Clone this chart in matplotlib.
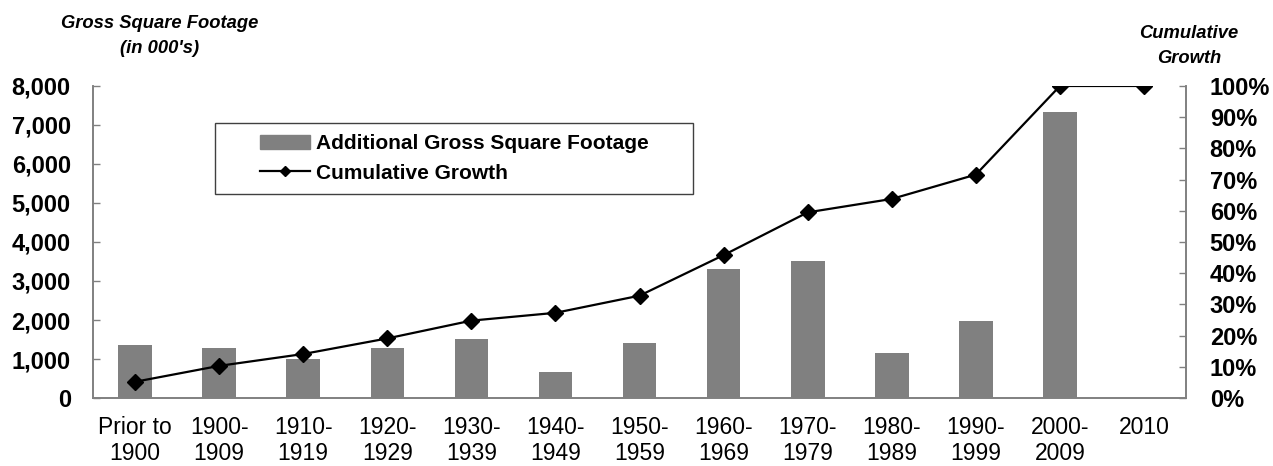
import matplotlib.pyplot as plt
import matplotlib.patches as mpatches
from matplotlib.lines import Line2D
from matplotlib.ticker import FuncFormatter
import numpy as np

plt.rcParams['font.family'] = ['Liberation Sans', 'DejaVu Sans']

# Data
periods = ['Prior to\n1900', '1900-\n1909', '1910-\n1919', '1920-\n1929',
           '1930-\n1939', '1940-\n1949', '1950-\n1959', '1960-\n1969',
           '1970-\n1979', '1980-\n1989', '1990-\n1999', '2000-\n2009', '2010']
added_sqft = [1350, 1290, 990, 1290, 1505, 675, 1420, 3300,
              3515, 1165, 1980, 7325, 0]
cumulative_pct = [5.2, 10.3, 14.1, 19.1, 24.8, 27.3, 32.8, 45.8,
                  59.5, 63.8, 71.6, 100, 100]

bar_color = '#808080'
axis_color = '#808080'

fig = plt.figure(figsize=(12.73, 4.66), dpi=100)
ax = fig.add_axes([0.0731, 0.1459, 0.8586, 0.6696])
ax2 = ax.twinx()

x = np.arange(len(periods))
ax.bar(x, added_sqft, width=0.4, color=bar_color, zorder=2)
ax2.plot(x, cumulative_pct, color='black', lw=1.6, marker='D',
         markersize=8, zorder=3)

# Left axis
ax.set_xlim(-0.5, len(periods) - 0.5)
ax.set_ylim(0, 8000)
ax.set_yticks(np.arange(0, 8001, 1000))
ax.yaxis.set_major_formatter(FuncFormatter(lambda v, p: f'{int(v):,}'))
ax.tick_params(axis='y', direction='in', length=5, width=1,
               color=axis_color, labelsize=17, pad=16)
for lab in ax.get_yticklabels():
    lab.set_fontweight('bold')
ax.set_xticks(x)
ax.set_xticklabels(periods, linespacing=1.15)
ax.tick_params(axis='x', length=0, labelsize=16.5, pad=13)

# Right axis
ax2.set_ylim(0, 100)
ax2.set_yticks(np.arange(0, 101, 10))
ax2.set_yticklabels([f'{v}%' for v in range(0, 101, 10)])
ax2.tick_params(axis='y', direction='in', length=5, width=1,
                color=axis_color, labelsize=17, pad=17)
for lab in ax2.get_yticklabels():
    lab.set_fontweight('bold')

for a in (ax, ax2):
    a.spines['top'].set_visible(False)
    for s in ('left', 'right', 'bottom'):
        a.spines[s].set_color(axis_color)
        a.spines[s].set_linewidth(1.2)

# Legend with a square frame
frame = mpatches.Rectangle((0.1116, 0.654), 0.4374, 0.227,
                           transform=ax2.transAxes, facecolor='white',
                           edgecolor='#404040', lw=1, zorder=4)
ax2.add_patch(frame)
handles = [mpatches.Patch(color=bar_color),
           Line2D([], [], color='black', lw=1.6, marker='D', markersize=5)]
leg = ax2.legend(handles, ['Additional Gross Square Footage', 'Cumulative Growth'],
                 loc='center', bbox_to_anchor=(0.3303, 0.7675),
                 frameon=False, handlelength=2.4, handletextpad=0.3,
                 labelspacing=0.5, prop={'weight': 'bold', 'size': 15})
leg.set_zorder(5)

# Axis titles
fig.text(0.1257, 0.923, "Gross Square Footage\n(in 000's)", ha='center',
         va='center', fontsize=13.2, fontweight='bold', style='italic',
         linespacing=1.6)
fig.text(0.934, 0.902, "Cumulative\nGrowth", ha='center',
         va='center', fontsize=13.2, fontweight='bold', style='italic',
         linespacing=1.6)

fig.savefig('out.png', dpi=100)
